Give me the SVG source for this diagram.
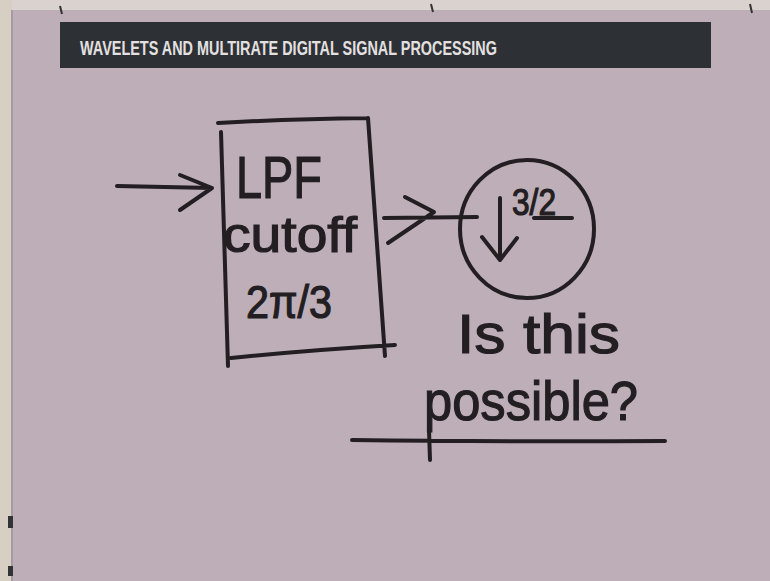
<svg xmlns="http://www.w3.org/2000/svg" width="770" height="581" viewBox="0 0 770 581">
<style>
.ink{fill:none;stroke:#221e22;stroke-width:4;stroke-linecap:round;stroke-linejoin:round}
.hw{font-family:"Liberation Sans","DejaVu Sans",sans-serif;fill:#221e22;stroke:#221e22;stroke-width:1.2}
</style>
<rect x="0" y="0" width="770" height="581" fill="#bdaeb8"/>
<rect x="0" y="0" width="770" height="10" fill="#d9d2cf"/>
<rect x="0" y="0" width="12" height="581" fill="#d8cfc4"/>
<rect x="11" y="10" width="2" height="571" fill="#a89aa2"/>
<rect x="8" y="516" width="5" height="12" fill="#333"/>
<rect x="8" y="566" width="5" height="10" fill="#333"/>
<path d="M60 6 L62 14 M431 4 L433 12 M750 4 L752 13" stroke="#333" stroke-width="2"/>
<g id="header">
<rect x="60" y="22" width="651" height="46" fill="#2d3136"/>
<text x="80" y="55" font-family="Liberation Sans,sans-serif" font-weight="bold" font-size="21" fill="#e4e0e0" textLength="417" lengthAdjust="spacingAndGlyphs">WAVELETS AND MULTIRATE DIGITAL SIGNAL PROCESSING</text>
</g>
<g id="lpf">
<path class="ink" d="M218 123 Q290 119 368 118 M221 132 L228 366 M368 118 L385 356 M231 358 Q310 350 395 345"/>
<text class="hw" x="236" y="198" font-size="60" textLength="86" lengthAdjust="spacingAndGlyphs">LPF</text>
<text class="hw" x="223" y="252" font-size="50" textLength="134" lengthAdjust="spacingAndGlyphs">cutoff</text>
<text class="hw" x="246" y="318" font-size="46" textLength="86" lengthAdjust="spacingAndGlyphs">2π/3</text>
</g>
<g id="downsampler">
<ellipse class="ink" cx="527" cy="229" rx="67" ry="69"/>
<path class="ink" d="M500 198 L500 260 M482 237 L500 260 L517 238"/>
<text class="hw" x="512" y="215" font-size="36" textLength="44" lengthAdjust="spacingAndGlyphs">3/2</text>
<path class="ink" d="M534 218 L572 218"/>
</g>
<g id="question">
<text class="hw" x="457" y="353" font-size="56" textLength="163" lengthAdjust="spacingAndGlyphs">Is this</text>
<text class="hw" x="424" y="420" font-size="56" textLength="214" lengthAdjust="spacingAndGlyphs">possible?</text>
<path class="ink" d="M352 440 Q500 442 665 441 M429 430 L430 460"/>
</g>
<g id="connectors">
<path class="ink" d="M117 186 L212 188 M180 175 L212 188 L180 210"/>
<path class="ink" d="M384 218 L477 217 M405 197 L434 212 L388 243"/>
</g>
</svg>
